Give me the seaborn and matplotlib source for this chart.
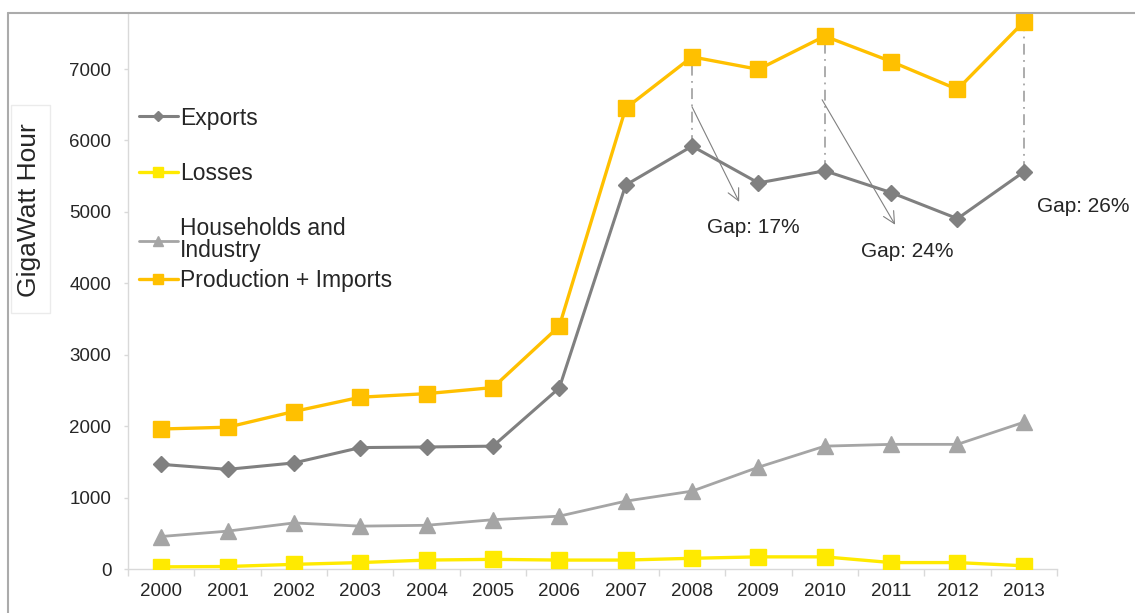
import numpy as np
import pandas as pd
import matplotlib
matplotlib.use("Agg")
import matplotlib.pyplot as plt
from matplotlib.lines import Line2D
from matplotlib.patches import Rectangle
import seaborn as sns

# ---------------- data ----------------
years = [2000, 2001, 2002, 2003, 2004, 2005, 2006, 2007, 2008, 2009, 2010, 2011, 2012, 2013]
exports = [1465, 1395, 1485, 1700, 1708, 1720, 2535, 5375, 5920, 5405, 5575, 5270, 4905, 5560]
losses = [30, 35, 65, 90, 125, 135, 125, 125, 150, 170, 170, 90, 90, 45]
households = [455, 530, 645, 600, 612, 690, 740, 950, 1090, 1425, 1720, 1745, 1745, 2055]
production = [1960, 1985, 2205, 2405, 2455, 2540, 3400, 6450, 7170, 6995, 7460, 7105, 6715, 7660]

gap_years = [2008, 2010, 2013]
gap_labels = ["Gap: 17%", "Gap: 24%", "Gap: 26%"]
y_ticks = [0, 1000, 2000, 3000, 4000, 5000, 6000, 7000]

series_names = ["Exports", "Losses", "Households and\nIndustry", "Production + Imports"]

# ---------------- style ----------------
sns.set_theme(style="white")
plt.rcParams['font.family'] = ['Liberation Sans', 'DejaVu Sans']
TXT = "#262626"
AX = "#D9D9D9"

W, H = 1135, 613
fig = plt.figure(figsize=(W / 100, H / 100), dpi=100)
L, R, T, B = 128, 1057, 13, 569
ax = fig.add_axes([L / W, 1 - B / H, (R - L) / W, (B - T) / H])

idx = np.arange(len(years))
df = pd.DataFrame({"pos": idx, "Exports": exports, "Losses": losses,
                   "Households": households, "Production": production})

styles = [
    ("Exports", "#808080", "D", 8.0, 2.2),
    ("Losses", "#FFEA00", "s", 11.5, 2.4),
    ("Households", "#A5A5A5", "^", 11.0, 2.0),
    ("Production", "#FFC000", "s", 12.0, 2.4),
]
for (col, color, mk, ms, lw), name in zip(styles, series_names):
    sns.lineplot(data=df, x="pos", y=col, ax=ax, color=color, marker=mk,
                 markersize=ms, markeredgecolor=color, markeredgewidth=1,
                 linewidth=lw, label=name, zorder=3)

# gap indicators
ann_start = [(8.0, 6470), (9.96, 6570), (12.97, 6570)]
ann_end = [(8.71, 5140), (11.06, 4820), (13.65, 5420)]
ann_text = [(8.23, 4780), (10.55, 4440), (13.20, 5070)]
for gy, lab, s, e, t in zip(gap_years, gap_labels, ann_start, ann_end, ann_text):
    i = years.index(gy)
    ax.vlines(i, exports[i], production[i], colors="#A6A6A6",
              linestyles=(0, (6, 3, 1, 3)), linewidth=1.3, zorder=2)
    ax.annotate("", xy=e, xytext=s,
                arrowprops=dict(arrowstyle="->,head_length=0.6,head_width=0.3",
                                color="#808080", lw=0.8, mutation_scale=14,
                                shrinkA=0, shrinkB=0), zorder=4)
    ax.text(t[0], t[1], lab, fontsize=15, ha="left", va="center", color=TXT)

# axes
ax.set_xlim(-0.5, len(years) - 0.5)
ax.set_ylim(0, 7784)
ax.set_xticks(idx)
ax.set_xticklabels([str(y) for y in years])
ax.set_xticks(np.arange(len(years) + 1) - 0.5, minor=True)
ax.set_yticks(y_ticks)
ax.set_xlabel("")
ax.set_ylabel("")
ax.tick_params(axis="x", which="major", length=0, pad=10, labelsize=13.5, labelcolor=TXT)
ax.tick_params(axis="x", which="minor", length=5, width=1, color=AX, bottom=True)
ax.tick_params(axis="y", which="major", length=3, width=1, color=AX, pad=9,
               labelsize=13.5, labelcolor=TXT, left=True)
for side in ["top", "right"]:
    ax.spines[side].set_visible(False)
for side in ["left", "bottom"]:
    ax.spines[side].set_color(AX)
    ax.spines[side].set_linewidth(1)
ax.grid(False)

# legend (two blocks to mimic the uneven spacing of the original)
handles, labels = ax.get_legend_handles_labels()
if ax.get_legend() is not None:
    ax.get_legend().remove()
leg_kw = dict(loc="upper left", frameon=False, fontsize=16.5, handlelength=1.7,
              handletextpad=0.1, borderpad=0, borderaxespad=0, markerscale=0.65)
leg1 = ax.legend(handles[:3], labels[:3],
                 bbox_to_anchor=((139 - L) / (R - L), (B - 106.5) / (B - T)),
                 labelspacing=1.41, **leg_kw)
for txt in leg1.get_texts():
    txt.set_color(TXT)
    txt.set_linespacing(0.95)
ax.add_artist(leg1)
leg2 = ax.legend(handles[3:], labels[3:],
                 bbox_to_anchor=((139 - L) / (R - L), (B - 269.5) / (B - T)),
                 **leg_kw)
for txt in leg2.get_texts():
    txt.set_color(TXT)

# outer frame
fig.add_artist(Line2D([8 / W, 1], [1 - 13 / H, 1 - 13 / H], color="#ABABAB", lw=1.5,
                      transform=fig.transFigure))
fig.add_artist(Line2D([8 / W, 8 / W], [0, 1 - 13 / H], color="#ABABAB", lw=1.5,
                      transform=fig.transFigure))

# y-label box
fig.add_artist(Rectangle((11 / W, 1 - 313 / H), 39 / W, 208 / H, transform=fig.transFigure,
                         facecolor="white", edgecolor="#EBEBEB", lw=1))
fig.text(29 / W, 1 - 210 / H, "GigaWatt Hour", rotation=90, ha="center", va="center",
         fontsize=19, color=TXT)

fig.savefig("out.png", dpi=100)
